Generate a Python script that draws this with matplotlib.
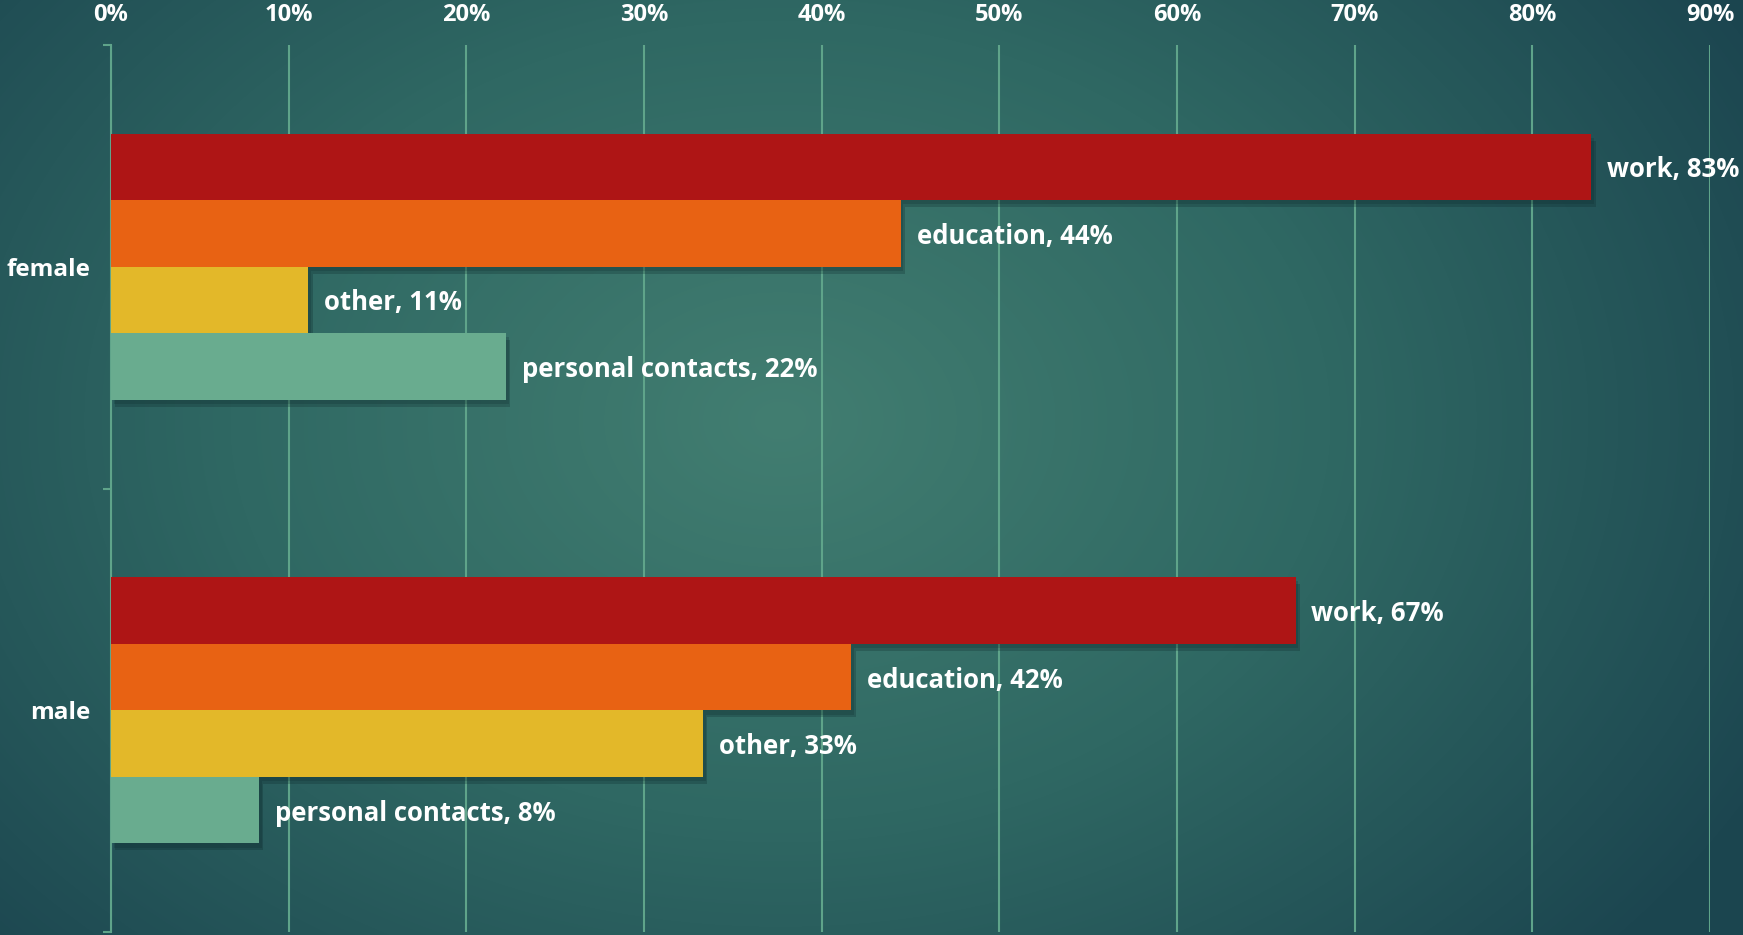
import numpy as np
import matplotlib
matplotlib.use('Agg')
import matplotlib.pyplot as plt
import matplotlib.patheffects as pe
from matplotlib.colors import LinearSegmentedColormap

# data
groups = ['female', 'male']
reasons = ['work', 'education', 'other', 'personal contacts']
female_vals = [83.33, 44.44, 11.11, 22.22]
male_vals = [66.67, 41.67, 33.33, 8.33]
female_labels = ['83%', '44%', '11%', '22%']
male_labels = ['67%', '42%', '33%', '8%']
xticks = [0, 10, 20, 30, 40, 50, 60, 70, 80, 90]

colors = ['#AE1515', '#E86213', '#E3B829', '#69AC8F']
plt.rcParams['font.family'] = ['Open Sans', 'DejaVu Sans']

fig = plt.figure(figsize=(17.43, 9.35), dpi=100)

# radial gradient background
bg = fig.add_axes([0, 0, 1, 1], zorder=-10)
yy, xx = np.mgrid[0:935, 0:1743]
r = np.sqrt(((xx - 780) / 1100.0) ** 2 + ((yy - 420) / 800.0) ** 2)
r = np.clip(r, 0, 1)
cmap = LinearSegmentedColormap.from_list('bg', ['#427E71', '#2F6863', '#1C4650'])
bg.imshow(r, cmap=cmap, aspect='auto', extent=[0, 1, 0, 1], vmin=0, vmax=1)
bg.axis('off')

ax = fig.add_axes([111 / 1743, 0.003, (1710 - 111) / 1743, 0.949])
ax.patch.set_alpha(0)

bar_h = 0.15
offsets = [-0.225, -0.075, 0.075, 0.225]
all_vals = [female_vals, male_vals]
all_labels = [female_labels, male_labels]
shadow = [pe.SimplePatchShadow(offset=(3, -5), shadow_rgbFace='#0b2528', alpha=0.25),
          pe.SimplePatchShadow(offset=(2, -3), shadow_rgbFace='#0b2528', alpha=0.2),
          pe.Normal()]

for gi, g in enumerate(groups):
    for ri, reason in enumerate(reasons):
        v = all_vals[gi][ri]
        y = gi + offsets[ri]
        b = ax.barh(y, v, height=bar_h, color=colors[ri], zorder=3 + ri * 0.1 + gi)
        b[0].set_path_effects(shadow)
        ax.text(v + 0.9, y, f'{reason}, {all_labels[gi][ri]}', va='center_baseline', ha='left',
                color='white', fontsize=18.5, fontweight='bold', zorder=10)

ax.set_xlim(0, 90)
ax.set_ylim(1.5, -0.5)
ax.set_xticks(xticks)
ax.set_xticklabels([f'{t}%' for t in xticks])
ax.xaxis.tick_top()
ax.tick_params(axis='x', length=0, pad=13, labelsize=17, labelcolor='white')
for lbl in ax.get_xticklabels():
    lbl.set_fontweight('bold')
ax.grid(axis='x', color='#5FA48A', linewidth=1.5, zorder=0)
ax.set_axisbelow(True)

ax.set_yticks([-0.5, 0.5, 1.5])
ax.set_yticklabels([])
ax.set_yticks([0, 1], minor=True)
ax.set_yticklabels(groups, minor=True)
ax.tick_params(axis='y', which='major', length=6, width=1.5, color='#5FA48A')
ax.tick_params(axis='y', which='minor', length=0, pad=15, labelsize=17.5, labelcolor='white')
for lbl in ax.get_yticklabels(minor=True):
    lbl.set_fontweight('bold')

for s in ['top', 'right', 'bottom']:
    ax.spines[s].set_visible(False)
ax.spines['left'].set_color('#5FA48A')
ax.spines['left'].set_linewidth(1.5)

fig.savefig('out.png', dpi=100)
